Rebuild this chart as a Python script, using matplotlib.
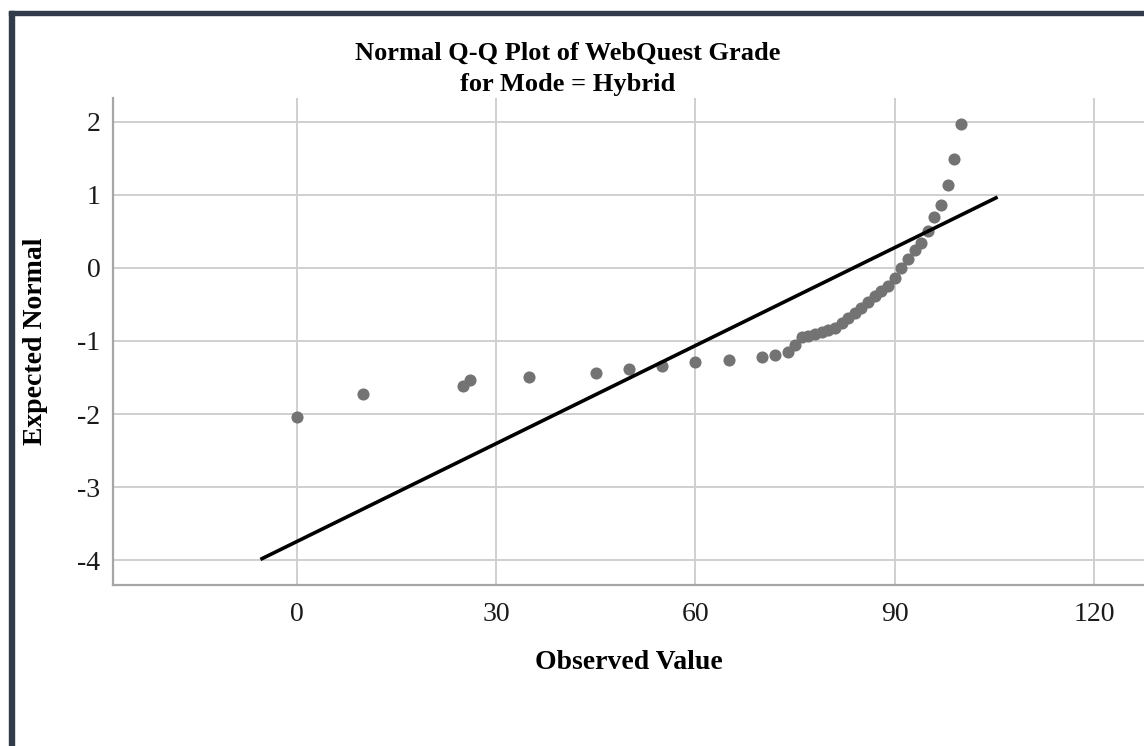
import matplotlib
matplotlib.use("Agg")
import matplotlib.pyplot as plt
from matplotlib.patches import Rectangle

# observed grades and their expected normal values
observed = [0, 10, 25, 26, 35, 45, 50, 55, 60, 65, 70, 72, 74,
            75, 76, 77, 78, 79, 80, 81, 82, 83, 84, 85, 86, 87, 88, 89,
            90, 91, 92, 93, 94, 95, 96, 97, 98, 99, 100]
expected = [-2.04, -1.72, -1.61, -1.53, -1.49, -1.44, -1.39, -1.34, -1.29, -1.26, -1.22, -1.19, -1.155,
            -1.05, -0.95, -0.93, -0.91, -0.88, -0.855, -0.82, -0.76, -0.69, -0.62, -0.55, -0.47, -0.39, -0.32, -0.25,
            -0.14, -0.005, 0.12, 0.25, 0.345, 0.505, 0.70, 0.86, 1.13, 1.485, 1.97]

# reference line end points
line_x = [-5.5, 105.5]
line_y = [-3.99, 0.97]

x_ticks = [0, 30, 60, 90, 120]
y_ticks = [-4, -3, -2, -1, 0, 1, 2]

plt.rcParams['font.family'] = ['Liberation Serif', 'DejaVu Serif']
plt.rcParams['axes.unicode_minus'] = False

W, H = 1144, 746
fig = plt.figure(figsize=(W / 100, H / 100), dpi=100)
ax = fig.add_axes([113 / W, 1 - 585 / H, (1145 - 113) / W, (585 - 97.7) / H])

ax.scatter(observed, expected, s=76, color='#737373', zorder=3, linewidths=0)
ax.plot(line_x, line_y, color='black', lw=2.6, zorder=4, solid_capstyle='butt')

ax.set_xlim(-27.7, 127.7)
ax.set_ylim(-4.34, 2.33)
ax.set_xticks(x_ticks)
ax.set_yticks(y_ticks)
ax.tick_params(length=0, labelsize=20, colors='#1a1a1a')
ax.tick_params(axis='x', pad=12)
ax.tick_params(axis='y', pad=9)
ax.grid(True, color='#cfcfcf', lw=1.4, zorder=0)
ax.set_axisbelow(True)
for s in ['top', 'right']:
    ax.spines[s].set_visible(False)
for s in ['left', 'bottom']:
    ax.spines[s].set_color('#a6a6a6')
    ax.spines[s].set_linewidth(1.6)

ax.set_xlabel('Observed Value', fontsize=20, fontweight='bold', labelpad=17)
ax.set_ylabel('Expected Normal', fontsize=20, fontweight='bold')
ax.yaxis.set_label_coords((48 - 113) / 1032, 0.5)

fig.text(568 / W, 1 - 69 / H, 'Normal Q-Q Plot of WebQuest Grade\nfor Mode = Hybrid',
         ha='center', va='center', fontsize=19, fontweight='bold', linespacing=1.5)

# dark frame on the left and top edges
fig.patches.append(Rectangle((9 / W, 0), 5 / W, 1 - 11 / H, transform=fig.transFigure,
                             color='#313b4a', zorder=10))
fig.patches.append(Rectangle((9 / W, 1 - 15 / H), 1, 4 / H, transform=fig.transFigure,
                             color='#313b4a', zorder=10))

fig.savefig('out.png', dpi=100)
